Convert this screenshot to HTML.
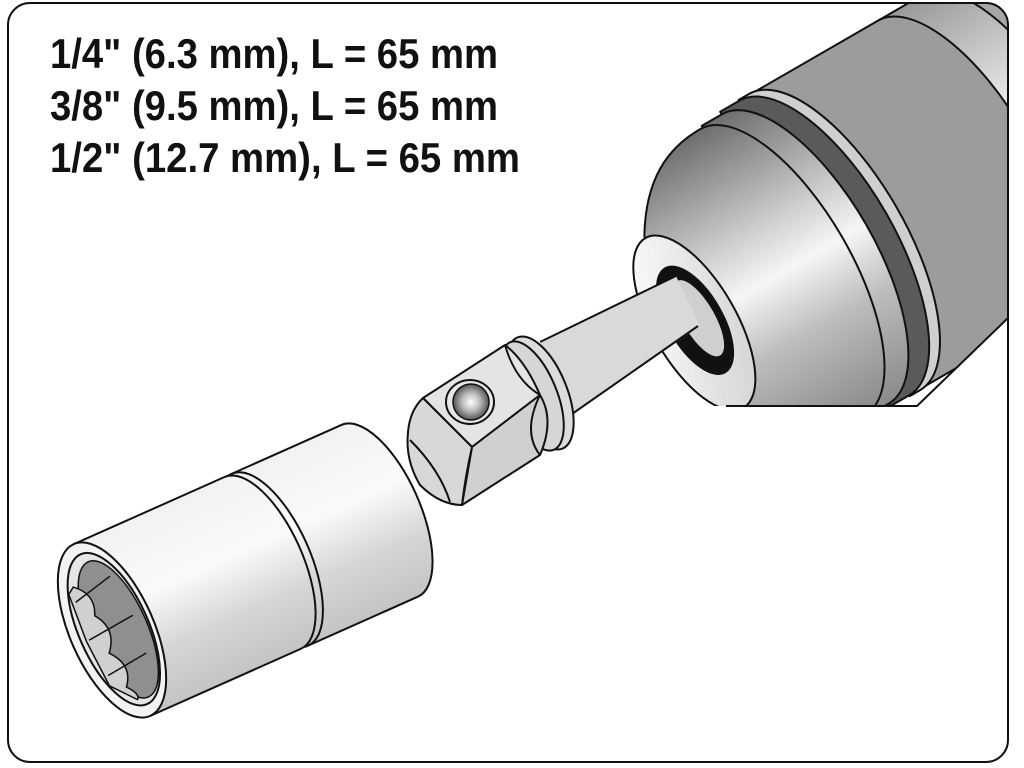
<!DOCTYPE html>
<html><head><meta charset="utf-8"><style>
html,body{margin:0;padding:0;background:#fff;width:1024px;height:768px;overflow:hidden}
</style></head><body>
<svg width="1024" height="768" viewBox="0 0 1024 768" xmlns="http://www.w3.org/2000/svg">
<defs>
<clipPath id="fr"><rect x="8" y="3" width="1000" height="759" rx="22"/></clipPath>
<clipPath id="ck"><path d="M0,0 L1024,0 L1024,300 L1008,318 L917,406 L700,406 L600,460 L0,768 Z"/></clipPath>
<linearGradient id="met" x1="0" y1="0" x2="0" y2="1">
<stop offset="0" stop-color="#6e6e6e"/><stop offset="0.35" stop-color="#cfcfcf"/><stop offset="0.5" stop-color="#f6f6f6"/><stop offset="0.7" stop-color="#bdbdbd"/><stop offset="1" stop-color="#8a8a8a"/></linearGradient>
<linearGradient id="met2" x1="0" y1="0" x2="0" y2="1">
<stop offset="0" stop-color="#999"/><stop offset="0.45" stop-color="#f4f4f4"/><stop offset="1" stop-color="#9a9a9a"/></linearGradient>
<linearGradient id="sock" x1="0" y1="0" x2="0" y2="1">
<stop offset="0" stop-color="#f2f2f2"/><stop offset="0.4" stop-color="#fafafa"/><stop offset="0.7" stop-color="#d6d6d6"/><stop offset="1" stop-color="#c4c4c4"/></linearGradient>
<linearGradient id="face" x1="0" y1="0" x2="1" y2="1">
<stop offset="0" stop-color="#fff"/><stop offset="1" stop-color="#cfcfcf"/></linearGradient>
<radialGradient id="ball" cx="0.5" cy="0.5" r="0.5">
<stop offset="0" stop-color="#fff"/><stop offset="0.5" stop-color="#bbb"/><stop offset="1" stop-color="#555"/></radialGradient>
</defs>
<g clip-path="url(#fr)" stroke="#111" stroke-width="2" stroke-linejoin="round">
 <g clip-path="url(#ck)">
 <g transform="translate(703,318) rotate(-30)">
  <path d="M350,-170 L800,-170 L800,170 L350,170 Z" fill="#a6a6a6"/>
  <path d="M300,-170 L350,-170 A71 170 0 0 1 350,170 L300,170 Z" fill="url(#met2)"/>
  <path d="M150,-170 L300,-170 A71 170 0 0 1 300,170 L150,170 Z" fill="#9c9c9c"/>
  <path d="M140,-171 L152,-171 A71 171 0 0 1 152,171 L140,171 Z" fill="#cfcfcf"/>
  <path d="M118,-170 L140,-170 A71 170 0 0 1 140,170 L118,170 Z" fill="#5a5a5a"/>
  <path d="M95,-167 L118,-167 A70 167 0 0 1 118,167 L95,167 Z" fill="url(#met)"/>
  <path d="M-10,-100 C20,-150 55,-165 92,-165 A69 165 0 0 1 92,165 C55,165 20,150 -10,100 Z" fill="url(#met)"/>
  <ellipse cx="-10" cy="0" rx="42" ry="98" fill="url(#face)"/>
  <ellipse cx="-8" cy="-2" rx="27" ry="60" fill="#111"/>
  <ellipse cx="-4" cy="-2" rx="16" ry="43" fill="#cfcfcf" stroke="none"/>
 </g>
 </g>
 <path d="M726,406 L917,406 L1008,318" fill="none"/>
 <path d="M540,342 L676,276 L700,326 L572,414 Z" fill="#d9d9d9" stroke="none"/>
 <path d="M540,342 L676,276 M698,326 L572,414" fill="none"/>
 <ellipse cx="540" cy="393" rx="27" ry="60" transform="rotate(-22 540 393)" fill="#dcdcdc"/>
 <ellipse cx="532" cy="396" rx="25" ry="58" transform="rotate(-22 532 396)" fill="#d6d6d6"/>
 <path d="M423,398 L505,345 Q525,360 540,395 L472,447 Z" fill="#e4e4e4"/>
 <path d="M472,447 L540,395 Q555,420 540,455 L462,505 Z" fill="#d0d0d0"/>
 <path d="M423,398 Q445,420 472,447 Q465,478 462,505 Q440,505 420,485 Q405,460 408,432 Q410,410 423,398 Z" fill="#d8d8d8"/>
 <path d="M410,440 Q440,470 450,502" fill="none"/>
 <path d="M505,345 Q515,380 540,395 M540,455 Q522,432 540,395" fill="none"/>
 <ellipse cx="470" cy="402" rx="24" ry="22" fill="#e8e8e8"/>
 <circle cx="471" cy="402" r="18" fill="url(#ball)" stroke-width="1.5"/>
 <g transform="translate(112,630) rotate(-24)">
  <path d="M170,-94 L293,-94 A40 94 0 0 1 293,94 L170,94 Z" fill="url(#sock)"/>
  <path d="M0,-94 L165,-94 A40 94 0 0 1 165,94 L0,94 Z" fill="url(#sock)"/>
  <path d="M173,-94 A40 94 0 0 1 173,94" fill="none"/>
  <ellipse cx="0" cy="0" rx="42" ry="94" fill="#f3f3f3"/>
  <ellipse cx="2" cy="0" rx="35" ry="82" fill="#e6e6e6"/>
  <ellipse cx="6" cy="2" rx="29" ry="74" fill="#8f8f8f" stroke-width="1.5"/>
  <path d="M-18,-55 Q0,-40 -10,-20 Q5,0 -12,20 Q5,40 -10,58 Q0,70 -5,74 L-25,50 L-28,0 L-25,-50 Z" fill="#d0d0d0" stroke-width="1.5"/>
  <path d="M-22,-40 L20,-50 M-25,0 L25,-5 M-22,40 L22,35" fill="none" stroke-width="1.5"/>
 </g>
</g>
<rect x="8" y="3" width="1000" height="759" rx="22" fill="none" stroke="#111" stroke-width="2"/>
<g font-family="'Liberation Sans', Arial, sans-serif" font-weight="bold" font-size="42" fill="#111">
<text x="50" y="68" textLength="448" lengthAdjust="spacingAndGlyphs">1/4" (6.3 mm), L = 65 mm</text>
<text x="50" y="120" textLength="448" lengthAdjust="spacingAndGlyphs">3/8" (9.5 mm), L = 65 mm</text>
<text x="50" y="172" textLength="470" lengthAdjust="spacingAndGlyphs">1/2" (12.7 mm), L = 65 mm</text>
</g>
</svg>
</body></html>
